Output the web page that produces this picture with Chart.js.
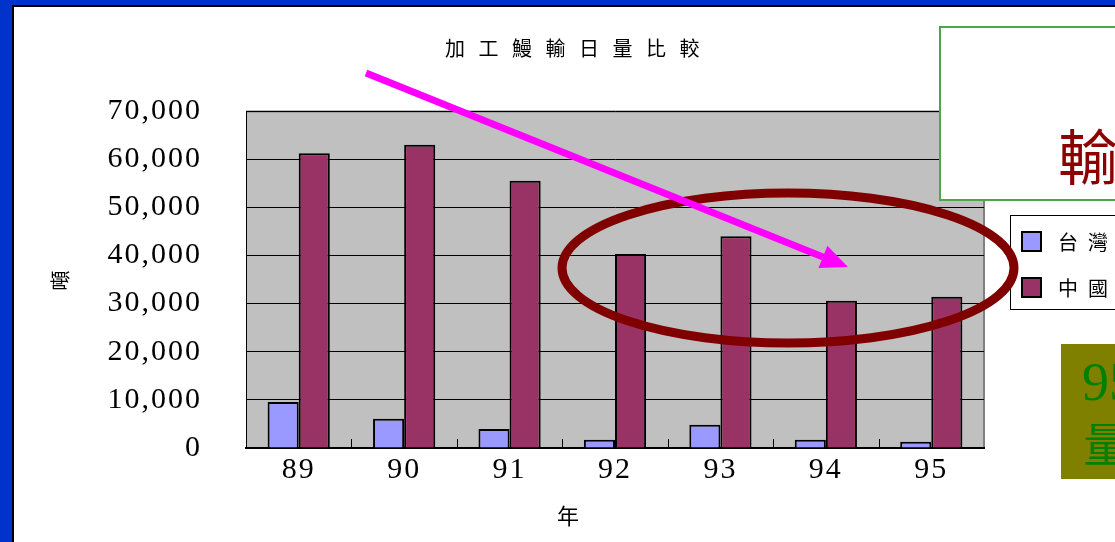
<!DOCTYPE html>
<html lang="zh-Hant">
    <head>
        <meta charset="utf-8" />
        <script src="https://cdn.jsdelivr.net/npm/chart.js@4.4.1/dist/chart.umd.min.js"></script>
        <title>加工鰻輸日量比較</title>
        <style>
            html, body { margin: 0; padding: 0; overflow: hidden; background: #0033cc; width: 1115px; height: 542px; }
            #lamina { position: absolute; left: 12px; top: 5px; width: 1300px; height: 600px; background: #fff;
                      border-left: 2px solid #000; border-top: 2px solid #000; }
            #grafico { position: absolute; left: 0; top: 0; }
            #cuadro { position: absolute; left: 925px; top: 19px; width: 300px; height: 171px; background: #fff;
                      border: 2px solid #4ca64c; }
            #cuadro span { position: absolute; left: 117px; top: 96px; font: 60px "Noto Sans CJK TC"; line-height: 1; color: #8b0000; }
            #nota { position: absolute; left: 1047px; top: 337px; width: 200px; height: 135px; background: #808000; }
            #nota .n { position: absolute; left: 21px; top: 11px; font: 54px "Liberation Serif"; line-height: 1; color: #008000; }
            #nota .c { position: absolute; left: 22px; top: 74px; font: 46px "Noto Sans CJK TC"; line-height: 1; color: #008000; }
        </style>
    </head>
    <body>
        <div id="lamina">
            <canvas id="grafico" width="1101" height="535"></canvas>
            <div id="cuadro"><span>輸</span></div>
            <div id="nota"><span class="n">95</span><span class="c">量</span></div>
        </div>
        <script>
            // datos (toneladas)
            const anios = ["89", "90", "91", "92", "93", "94", "95"];
            const taiwan = [9550, 6100, 3950, 1700, 4850, 1700, 1300];
            const china = [61200, 63000, 55500, 40300, 44000, 30600, 31400];
            const nombres = ["台灣", "中國"];
            const colores = ["#9999ff", "#993366"];
            const titulo = "加工鰻輸日量比較";

            // fondo gris, marcas del eje x, leyenda y anotaciones
            const extras = {
                id: "extras",
                beforeDraw(chart) {
                    const ctx = chart.ctx;
                    const a = chart.chartArea;
                    ctx.letterSpacing = "2px";
                    ctx.save();
                    ctx.fillStyle = "#c0c0c0";
                    ctx.fillRect(a.left, a.top, a.right - a.left, a.bottom - a.top);
                    ctx.strokeStyle = "#808080";
                    ctx.lineWidth = 2;
                    ctx.beginPath();
                    ctx.moveTo(a.left, a.top + 0.5);
                    ctx.lineTo(a.right, a.top + 0.5);
                    ctx.lineTo(a.right, a.bottom);
                    ctx.stroke();
                    ctx.restore();
                },
                beforeDatasetsDraw(chart) {
                    const ctx = chart.ctx;
                    const x = chart.scales.x;
                    const b = chart.chartArea.bottom;
                    ctx.save();
                    ctx.strokeStyle = "#000";
                    ctx.lineWidth = 1;
                    for (let i = 0; i < anios.length - 1; i++) {
                        const px = Math.round(x.getPixelForValue(i + 0.5)) + 0.5;
                        ctx.beginPath();
                        ctx.moveTo(px, b);
                        ctx.lineTo(px, b - 9);
                        ctx.stroke();
                    }
                    ctx.restore();
                },
                afterDraw(chart) {
                    const ctx = chart.ctx;
                    ctx.save();
                    ctx.fillStyle = "#000";
                    ctx.textBaseline = "middle";
                    ctx.textAlign = "left";
                    // titulo
                    ctx.letterSpacing = "13.5px";
                    ctx.font = '20px "Noto Sans CJK TC"';
                    ctx.fillText(titulo, 431, 41);
                    // titulo eje x
                    ctx.letterSpacing = "0px";
                    ctx.font = '22px "Noto Sans CJK TC"';
                    ctx.fillText("年", 543, 509);
                    // leyenda
                    ctx.fillStyle = "#fff";
                    ctx.fillRect(996.5, 208.5, 200, 94);
                    ctx.strokeStyle = "#000";
                    ctx.lineWidth = 1;
                    ctx.strokeRect(996.5, 208.5, 200, 94);
                    ctx.letterSpacing = "10px";
                    ctx.font = '20px "Noto Sans CJK TC"';
                    chart.data.datasets.forEach((d, i) => {
                        const y = 225 + i * 46;
                        ctx.fillStyle = d.backgroundColor;
                        ctx.fillRect(1008, y, 19, 19);
                        ctx.lineWidth = 2;
                        ctx.strokeRect(1008, y, 19, 19);
                        ctx.fillStyle = "#000";
                        ctx.fillText(d.label, 1044, y + 10);
                    });
                    // elipse
                    ctx.strokeStyle = "#800000";
                    ctx.lineWidth = 9;
                    ctx.beginPath();
                    ctx.ellipse(774, 261, 226, 75, 0, 0, Math.PI * 2);
                    ctx.stroke();
                    // flecha
                    const x0 = 352, y0 = 66, x1 = 834, y1 = 260;
                    const ang = Math.atan2(y1 - y0, x1 - x0);
                    const largo = 27, ancho = 12;
                    const bx = x1 - largo * Math.cos(ang), by = y1 - largo * Math.sin(ang);
                    ctx.strokeStyle = "#ff00ff";
                    ctx.fillStyle = "#ff00ff";
                    ctx.lineWidth = 7;
                    ctx.beginPath();
                    ctx.moveTo(x0, y0);
                    ctx.lineTo(bx, by);
                    ctx.stroke();
                    ctx.beginPath();
                    ctx.moveTo(x1, y1);
                    ctx.lineTo(bx + ancho * Math.sin(ang), by - ancho * Math.cos(ang));
                    ctx.lineTo(bx - ancho * Math.sin(ang), by + ancho * Math.cos(ang));
                    ctx.closePath();
                    ctx.fill();
                    ctx.restore();
                }
            };

            new Chart(document.getElementById("grafico").getContext("2d"), {
                type: "bar",
                data: {
                    labels: anios,
                    datasets: [
                        { label: nombres[0], data: taiwan, backgroundColor: colores[0], borderColor: "#000", borderWidth: 2 },
                        { label: nombres[1], data: china, backgroundColor: colores[1], borderColor: "#000", borderWidth: 2 }
                    ]
                },
                options: {
                    responsive: false,
                    animation: false,
                    layout: { padding: { top: 104, right: 131, bottom: 0, left: 0 } },
                    datasets: { bar: { categoryPercentage: 0.59, barPercentage: 1 } },
                    plugins: { legend: { display: false }, title: { display: false }, tooltip: { enabled: false } },
                    scales: {
                        x: {
                            grid: { display: false },
                            border: { color: "#000", width: 2 },
                            ticks: { color: "#000", padding: -4, font: { family: "Liberation Serif", size: 30 } },
                            afterFit(s) { s.height = 94; }
                        },
                        y: {
                            min: 0,
                            max: 70000,
                            ticks: {
                                stepSize: 10000,
                                color: "#000",
                                padding: 44,
                                font: { family: "Liberation Serif", size: 30 },
                                callback: (v) => v.toLocaleString("en-US")
                            },
                            grid: { color: "#000", lineWidth: 1, drawTicks: false },
                            border: { color: "#000", width: 1 },
                            title: { display: true, text: "噸", color: "#000", padding: { top: 34, bottom: 0 },
                                     font: { family: "Noto Sans CJK TC", size: 20 } },
                            afterFit(s) { s.width = 232; }
                        }
                    }
                },
                plugins: [extras]
            });
        </script>
    </body>
</html>
